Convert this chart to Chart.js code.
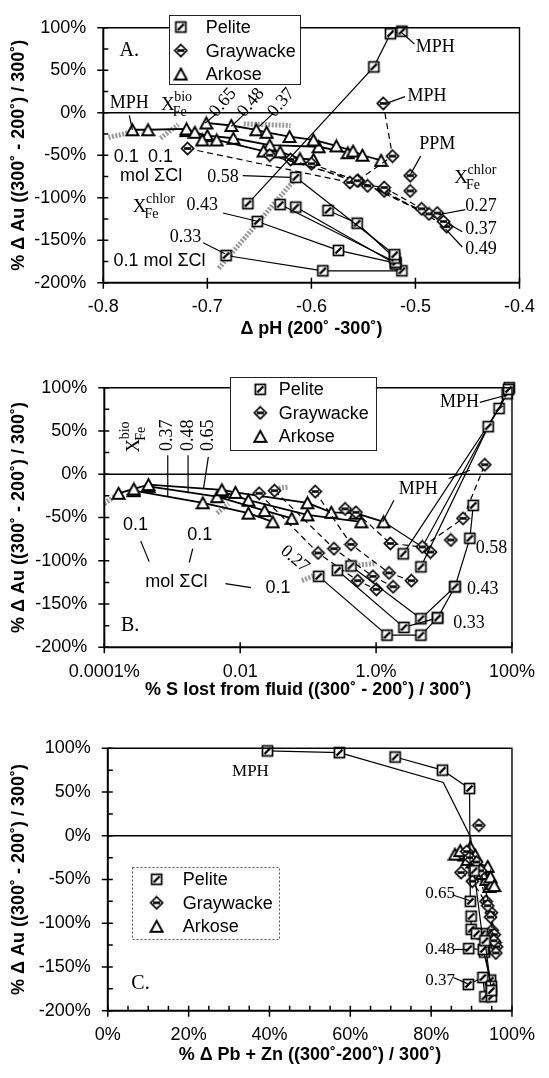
<!DOCTYPE html>
<html>
<head>
<meta charset="utf-8">
<script src="https://cdn.jsdelivr.net/npm/chart.js@4.4.1/dist/chart.umd.min.js"></script>
<style>
  html, body { margin: 0; padding: 0; background: #fff; }
  body { width: 549px; height: 1078px; position: relative; overflow: hidden; }
  canvas { position: absolute; left: 0; }
</style>
</head>
<body>
<canvas id="panelA" width="549" height="345" style="top:0"></canvas>
<canvas id="panelB" width="549" height="360" style="top:345px"></canvas>
<canvas id="panelC" width="549" height="373" style="top:705px"></canvas>
<script>
const SANS = '"Liberation Sans", Arial, sans-serif';
const SERIF = '"Liberation Serif", "Times New Roman", serif';

// rock types, in legend order
const rockNames = ['Pelite', 'Graywacke', 'Arkose'];
const rockKinds = ['pelite', 'graywacke', 'arkose'];

// shared y axis: % change of Au
const yTicks = [-200, -150, -100, -50, 0, 50, 100];
const yMinorTicks = [-175, -125, -75, -25, 25, 75];

// panel A: delta pH
const phTicks = [-0.8, -0.7, -0.6, -0.5, -0.4];
const pelitePH = [
  [[-0.661, -107], [-0.540, 54], [-0.524, 93], [-0.513, 96]],
  [[-0.615, -76], [-0.520, -167]],
  [[-0.584, -115], [-0.556, -130], [-0.520, -171]],
  [[-0.630, -108], [-0.519, -176]],
  [[-0.615, -111], [-0.519, -178]],
  [[-0.652, -128], [-0.574, -162], [-0.519, -177]],
  [[-0.682, -168], [-0.589, -186], [-0.513, -186]],
];
const graywackePH = [
  [[-0.531, 11], [-0.522, -51], [-0.556, -80]],
  [[-0.719, -42], [-0.563, -82], [-0.530, -88], [-0.494, -113]],
  [[-0.640, -50], [-0.555, -80], [-0.487, -119], [-0.479, -118]],
  [[-0.620, -55], [-0.546, -86], [-0.473, -128]],
  [[-0.600, -60], [-0.530, -92], [-0.470, -134]],
];
const graywackePPM = [[-0.505, -74], [-0.505, -92]];
const arkosePH = [
  [[-0.772, -20], [-0.757, -20], [-0.720, -19], [-0.712, -23], [-0.705, -32], [-0.691, -32], [-0.646, -45], [-0.630, -46], [-0.611, -54], [-0.598, -55]],
  [[-0.701, -12], [-0.677, -15], [-0.653, -20], [-0.643, -23], [-0.621, -28], [-0.598, -32], [-0.576, -39], [-0.560, -45], [-0.551, -50], [-0.533, -56]],
  [[-0.720, -21], [-0.700, -27], [-0.675, -30], [-0.640, -38], [-0.593, -40], [-0.565, -47]],
];
const clBandPH = [
  [[-0.795, -29], [-0.770, -22]],
  [[-0.745, -30], [-0.728, -14]],
  [[-0.665, -13], [-0.620, -15]],
  [[-0.689, -183], [-0.617, -80]],
];

// panel B: % S lost from fluid (log axis)
const sLostTicks = [1e-4, 1e-2, 1, 100];
const sLostTickLabels = ['0.0001%', '0.01', '1.0%', '100%'];
const pelitePS = [
  [[4.57, -107], [44.7, 55], [85.1, 93], [89.1, 98]],
  [[2.51, -92], [64.6, 76], [91.2, 100]],
  [[0.143, -118], [1.45, -186], [4.57, -186], [8.04, -166]],
  [[0.269, -111], [2.57, -177], [8.04, -166], [14.5, -130]],
  [[0.427, -106], [4.57, -167], [14.5, -130], [24.0, -74], [26.9, -36]],
];
const graywackePS = [
  [[0.35, -40], [0.506, -44], [1.62, -80], [4.79, -84], [19.05, -51], [39.8, 11]],
  [[0.019, -22], [0.14, -91], [0.537, -123], [1.01, -133]],
  [[0.032, -19], [0.24, -86], [0.90, -118], [1.78, -130]],
  [[0.127, -20], [0.427, -81], [1.55, -114], [3.31, -123]],
];
const graywackeLoneS = [[6.31, -90], [12.6, -76]];
const arkosePS = [
  [[1.62e-4, -22], [2.72e-4, -17], [4.47e-4, -12], [5.37e-3, -18], [8.51e-3, -21], [0.0977, -33], [0.219, -44], [0.501, -45], [1.29, -55]],
  [[2.72e-4, -19], [2.82e-3, -33], [0.0132, -45], [0.0302, -55]],
  [[4.47e-4, -14], [4.57e-3, -26], [0.0229, -42], [0.0575, -51]],
  [[5.37e-3, -20], [0.0132, -30], [0.0977, -47], [0.603, -55]],
];
const mphPathS = [[1.29, -55], [4.79, -84], [91.2, 100]];
const clBandPS = [
  [[1.0e-4, -34], [1.82e-4, -20]],
  [[4.57e-3, -45], [6.76e-3, -34]],
  [[0.029, -17], [0.05, -15]],
  [[0.081, -123], [0.143, -115]],
  [[0.55, -105], [1.0, -103]],
];

// panel C: % change of Pb + Zn
const pbznTicks = [0, 20, 40, 60, 80, 100];
const pelitePZ = [
  [[39.5, 97], [57.3, 95]],
  [[71.1, 90], [82.8, 75], [89.5, 54], [89.7, -75]],
  [[89.9, -92], [89.9, -107], [91.2, -112], [93.3, -120], [94.9, -177]],
  [[89.3, -129], [92.9, -130], [94.9, -172]],
  [[89.2, -170], [92.8, -162], [93.3, -184], [94.9, -184]],
  [[90.6, -40], [92.6, -112], [93.2, -133], [94.7, -165]],
];
const pelitePathPZ = [[57.3, 95], [83, 61], [89.8, -2], [90.2, -30]];
const graywackePZ = [
  [[91.8, 12]],
  [[87.4, -42], [90.2, -52], [94.0, -80], [94.7, -93], [95.5, -120], [96.0, -134]],
  [[89.5, -25], [92.2, -40], [94.9, -88], [95.6, -113], [96.2, -127]],
  [[88.8, -18], [91.2, -30], [93.6, -75], [95.1, -108], [95.8, -122]],
];
const arkosePZ = [
  [[85.9, -21], [87.2, -17], [89.7, -13], [90.9, -22], [92.6, -43], [94.7, -47], [95.6, -57]],
  [[87.2, -20], [89.0, -27], [91.5, -33], [93.6, -50], [95.0, -55]],
  [[88.2, -22], [90.2, -30], [94.0, -35], [94.4, -58]],
];

// labels and leader lines, placed in data units
const notesA = [
  { t: 'A.', x: -0.775, y: 73, serif: true, size: 20 },
  { t: 'MPH', x: -0.481, y: 77, serif: true },
  { t: 'MPH', x: -0.489, y: 20, serif: true },
  { t: 'PPM', x: -0.479, y: -37, serif: true },
  { xfe: 'chlor', x: -0.456, y: -77 },
  { t: '0.27', x: -0.437, y: -110, serif: true },
  { t: '0.37', x: -0.437, y: -137, serif: true },
  { t: '0.49', x: -0.437, y: -161, serif: true },
  { t: 'MPH', x: -0.775, y: 11, serif: true },
  { xfe: 'bio', x: -0.738, y: 9 },
  { t: '0.65', x: -0.685, y: 12, serif: true, rot: -50 },
  { t: '0.48', x: -0.658, y: 12, serif: true, rot: -50 },
  { t: '0.37', x: -0.629, y: 12, serif: true, rot: -50 },
  { t: '0.1', x: -0.778, y: -52 },
  { t: '0.1', x: -0.745, y: -52 },
  { t: 'mol ΣCl', x: -0.754, y: -75 },
  { t: '0.58', x: -0.685, y: -76, serif: true },
  { xfe: 'chlor', x: -0.765, y: -111 },
  { t: '0.43', x: -0.705, y: -109, serif: true },
  { t: '0.33', x: -0.721, y: -147, serif: true },
  { t: '0.1 mol ΣCl', x: -0.746, y: -175 },
];
const leadersA = [
  [[-0.513, 94], [-0.501, 81]],
  [[-0.528, 11], [-0.510, 19]],
  [[-0.495, -51], [-0.505, -73]],
  [[-0.452, -114], [-0.478, -120]],
  [[-0.455, -140], [-0.468, -131]],
  [[-0.455, -158], [-0.471, -137]],
  [[-0.775, -3], [-0.772, -20]],
  [[-0.691, -1], [-0.702, -12]],
  [[-0.664, -1], [-0.677, -16]],
  [[-0.637, -1], [-0.650, -16]],
  [[-0.666, -74], [-0.620, -76]],
  [[-0.685, -118], [-0.651, -128]],
  [[-0.704, -153], [-0.683, -166]],
];
const notesB = [
  { t: 'MPH', x: 16.9, y: 83, serif: true },
  { t: 'MPH', x: 4.16, y: -17, serif: true },
  { t: '0.58', x: 50.1, y: -86, serif: true },
  { t: '0.43', x: 37.2, y: -133, serif: true },
  { t: '0.33', x: 23.4, y: -172, serif: true },
  { t: 'B.', x: 2.4e-4, y: -175, serif: true, size: 20 },
  { t: '0.1', x: 2.88e-4, y: -59 },
  { t: '0.1', x: 2.55e-3, y: -70 },
  { t: 'mol ΣCl', x: 1.15e-3, y: -125 },
  { t: '0.1', x: 0.036, y: -132 },
  { t: '0.27', x: 0.0637, y: -98, serif: true, rot: 40 },
  { xfe: 'bio', x: 2.72e-4, y: 33, rot: -90 },
  { t: '0.37', x: 8.59e-4, y: 45, serif: true, rot: -90 },
  { t: '0.48', x: 1.71e-3, y: 45, serif: true, rot: -90 },
  { t: '0.65', x: 3.40e-3, y: 45, serif: true, rot: -90 },
];
const leadersB = [
  [[33.6, 83], [79.4, 91]],
  [[1.83, -30], [1.25, -55]],
  [[11.7, -5], [24, 4.6]],
  [[3.43e-4, -77], [4.57e-4, -101]],
  [[2.0e-3, -86], [1.78e-3, -102]],
  [[6.05e-3, -126.5], [0.01436, -131]],
  [[8.59e-4, 22], [8.59e-4, -26]],
  [[1.71e-3, 22], [1.71e-3, -22]],
  [[3.40e-3, 20], [2.88e-3, -17]],
];
const notesC = [
  { t: 'MPH', x: 35.3, y: 73, serif: true, size: 17 },
  { t: 'C.', x: 8.1, y: -169, serif: true, size: 20 },
  { t: '0.65', x: 82.2, y: -66, serif: true, size: 17 },
  { t: '0.48', x: 82.2, y: -130, serif: true, size: 17 },
  { t: '0.37', x: 82.2, y: -165, serif: true, size: 17 },
];
const leadersC = [
  [[85.5, -68], [89.5, -74]],
  [[85.5, -130], [89, -130]],
  [[85.5, -162], [89, -169]],
];

// ---- marker glyphs ----
function makeMarker(kind) {
  const c = document.createElement('canvas');
  c.width = 15; c.height = 15;
  const g = c.getContext('2d');
  g.strokeStyle = '#000';
  g.fillStyle = '#fff';
  g.lineWidth = 1.7;
  if (kind === 'pelite') {
    g.fillRect(2.5, 2.5, 10, 10);
    g.strokeRect(2.5, 2.5, 10, 10);
    g.lineWidth = 2.4;
    g.beginPath(); g.moveTo(4.5, 10.5); g.lineTo(10.5, 4.5); g.stroke();
  } else if (kind === 'graywacke') {
    g.beginPath();
    g.moveTo(7.5, 1.5); g.lineTo(13.5, 7.5); g.lineTo(7.5, 13.5); g.lineTo(1.5, 7.5);
    g.closePath(); g.fill(); g.stroke();
    g.lineWidth = 2.6;
    g.beginPath(); g.moveTo(4, 7.5); g.lineTo(11, 7.5); g.stroke();
  } else {
    g.beginPath();
    g.moveTo(7.5, 2); g.lineTo(13.5, 13); g.lineTo(1.5, 13);
    g.closePath(); g.fill(); g.lineWidth = 1.9; g.stroke();
  }
  return c;
}
const MARKERS = {};
rockKinds.forEach(k => { MARKERS[k] = makeMarker(k); });

// ---- dataset builders ----
function series(lines, kind, dashed, showLine = true) {
  return lines.map(pts => ({
    data: pts.map(([x, y]) => ({ x, y })),
    showLine,
    borderColor: '#000',
    borderWidth: kind === 'arkose' ? 1.8 : 1.2,
    borderDash: dashed ? [6, 4] : [],
    pointStyle: MARKERS[kind],
    pointRadius: 6,
    clip: false,
    order: 1,
  }));
}
function path(pts) {
  return {
    data: pts.map(([x, y]) => ({ x, y })),
    showLine: true,
    borderColor: '#000',
    borderWidth: 1.2,
    pointRadius: 0,
    clip: false,
    order: 2,
  };
}
function bands(lines) {
  return lines.map(pts => ({
    data: pts.map(([x, y]) => ({ x, y })),
    showLine: true,
    borderColor: 'rgba(135,135,135,0.85)',
    borderWidth: 5,
    borderDash: [2, 1.5],
    pointRadius: 0,
    clip: false,
    order: 3,
  }));
}

// ---- drawing helpers ----
function toPx(chart, x, y) {
  return [chart.scales.x.getPixelForValue(x), chart.scales.y.getPixelForValue(y)];
}

function drawXFe(ctx, sup) {
  ctx.textBaseline = 'middle';
  ctx.textAlign = 'center';
  ctx.font = `19px ${SERIF}`;
  const w = ctx.measureText('X').width;
  ctx.fillText('X', 0, 0);
  ctx.textAlign = 'left';
  ctx.font = `14px ${SERIF}`;
  ctx.fillText(sup, w / 2 - 0.5, -8);
  ctx.fillText('Fe', w / 2 - 2, 7.5);
}

function drawFrame(chart, spec) {
  const { ctx, chartArea: a, scales: { x, y } } = chart;
  ctx.save();
  ctx.strokeStyle = '#000';
  ctx.lineWidth = 1.4;
  ctx.beginPath();
  ctx.moveTo(a.left, a.top); ctx.lineTo(a.right, a.top); ctx.lineTo(a.right, a.bottom);
  ctx.stroke();
  ctx.lineWidth = 2;
  ctx.beginPath();
  ctx.moveTo(a.left, a.top); ctx.lineTo(a.left, a.bottom); ctx.lineTo(a.right, a.bottom);
  ctx.stroke();
  ctx.lineWidth = 1.5;
  ctx.beginPath();
  yTicks.forEach(v => { const p = y.getPixelForValue(v); ctx.moveTo(a.left - 6, p); ctx.lineTo(a.left + 5, p); });
  yMinorTicks.forEach(v => { const p = y.getPixelForValue(v); ctx.moveTo(a.left, p); ctx.lineTo(a.left + 5, p); });
  spec.xTicks.forEach(v => { const p = x.getPixelForValue(v); ctx.moveTo(p, a.bottom - 5); ctx.lineTo(p, a.bottom + 6); });
  spec.xMinor.forEach(v => { const p = x.getPixelForValue(v); ctx.moveTo(p, a.bottom - 5); ctx.lineTo(p, a.bottom); });
  ctx.stroke();
  ctx.restore();
}

function drawNotes(chart, spec) {
  const { ctx } = chart;
  ctx.save();
  ctx.fillStyle = '#000';
  ctx.strokeStyle = '#000';
  ctx.lineWidth = 1.2;
  spec.leaders.forEach(([p, q]) => {
    const a = toPx(chart, p[0], p[1]), b = toPx(chart, q[0], q[1]);
    ctx.beginPath(); ctx.moveTo(a[0], a[1]); ctx.lineTo(b[0], b[1]); ctx.stroke();
  });
  spec.notes.forEach(n => {
    const [px, py] = toPx(chart, n.x, n.y);
    ctx.save();
    ctx.translate(px, py);
    if (n.rot) ctx.rotate(n.rot * Math.PI / 180);
    if (n.xfe) {
      drawXFe(ctx, n.xfe);
    } else {
      ctx.textAlign = 'center';
      ctx.textBaseline = 'middle';
      ctx.font = `${n.size || 18}px ${n.serif ? SERIF : SANS}`;
      ctx.fillText(n.t, 0, 0);
    }
    ctx.restore();
  });
  ctx.restore();
}

function drawKey(chart, L) {
  const { ctx } = chart;
  const [left, top] = toPx(chart, L.x, L.y);
  ctx.save();
  ctx.fillStyle = '#fff';
  ctx.fillRect(left, top, L.w, L.h);
  ctx.strokeStyle = L.dash ? '#555' : '#222';
  ctx.lineWidth = 1;
  if (L.dash) ctx.setLineDash([2, 2]);
  ctx.strokeRect(Math.round(left) + 0.5, Math.round(top) + 0.5, L.w, L.h);
  ctx.setLineDash([]);
  ctx.font = `18px ${SANS}`;
  ctx.fillStyle = '#000';
  ctx.textAlign = 'left';
  ctx.textBaseline = 'middle';
  rockNames.forEach((name, i) => {
    const cy = top + 12 + i * 23.5;
    const m = MARKERS[rockKinds[i]];
    ctx.drawImage(m, left + L.markerDx - m.width / 2, cy - m.height / 2);
    ctx.fillText(name, left + L.textDx, cy + 1);
  });
  ctx.restore();
}

function decor(spec) {
  return {
    id: 'decor' + spec.id,
    beforeDatasetsDraw(chart) {
      const { ctx, chartArea: a, scales: { y } } = chart;
      const y0 = y.getPixelForValue(0);
      ctx.save();
      ctx.strokeStyle = '#000';
      ctx.lineWidth = 1.3;
      ctx.beginPath(); ctx.moveTo(a.left, y0); ctx.lineTo(a.right, y0); ctx.stroke();
      ctx.restore();
    },
    afterDraw(chart) {
      drawFrame(chart, spec);
      drawNotes(chart, spec);
      drawKey(chart, spec.key);
    },
  };
}

function makePanel(canvasId, spec) {
  const tickFont = { family: SANS, size: 18 };
  const titleFont = { family: SANS, size: 18, weight: 'bold' };
  return new Chart(document.getElementById(canvasId), {
    type: 'scatter',
    data: { datasets: spec.datasets },
    options: {
      responsive: false,
      animation: false,
      devicePixelRatio: 1,
      layout: { padding: { top: spec.padTop, right: spec.padRight, left: 0, bottom: 0 } },
      plugins: { legend: { display: false }, tooltip: { enabled: false } },
      elements: { line: { tension: 0 } },
      scales: {
        x: {
          type: spec.xType,
          min: spec.xMin,
          max: spec.xMax,
          grid: { display: false, drawTicks: false },
          border: { display: false },
          afterBuildTicks: s => { s.ticks = spec.xTicks.map(v => ({ value: v })); },
          afterFit: s => { s.height = spec.xBoxH; },
          ticks: {
            autoSkip: false, maxRotation: 0, minRotation: 0, padding: 14,
            color: '#000', font: tickFont, callback: spec.xLabel,
          },
          title: {
            display: true, text: spec.xTitle, color: '#000', font: titleFont,
            padding: { top: 0, bottom: spec.xTitlePad },
          },
        },
        y: {
          min: -200,
          max: 100,
          grid: { display: false, drawTicks: false },
          border: { display: false },
          afterBuildTicks: s => { s.ticks = yTicks.map(v => ({ value: v })); },
          afterFit: s => { s.width = spec.yBoxW; },
          ticks: { padding: 17, color: '#000', font: tickFont, callback: v => v + '%' },
          title: {
            display: true, text: '% Δ Au ((300˚ - 200˚) / 300˚)', color: '#000', font: titleFont,
            padding: { top: 8, bottom: 0 },
          },
        },
      },
    },
    plugins: [decor(spec)],
  });
}

const minorEvery = (lo, hi, step, skip) => {
  const out = [];
  for (let v = lo + step; v < hi; v += step) if (Math.round(v) % skip !== 0) out.push(v);
  return out;
};

makePanel('panelA', {
  id: 'A',
  xType: 'linear', xMin: -0.8, xMax: -0.4,
  xTicks: phTicks, xMinor: [], xLabel: v => v.toFixed(1),
  xTitle: 'Δ pH (200˚ -300˚)',
  padTop: 18.5, padRight: 24, yBoxW: 103.3, xBoxH: 62.3, xTitlePad: 5,
  datasets: [
    ...series(pelitePH, 'pelite', false),
    ...series(graywackePH, 'graywacke', true),
    ...series([graywackePPM], 'graywacke', false, false),
    ...series(arkosePH, 'arkose', false),
    ...bands(clBandPH),
  ],
  notes: notesA, leaders: leadersA,
  key: { x: -0.737, y: 115, w: 131, h: 69, markerDx: 12, textDx: 37, dash: false },
});

makePanel('panelB', {
  id: 'B',
  xType: 'logarithmic', xMin: 1e-4, xMax: 100,
  xTicks: sLostTicks, xMinor: [], xLabel: (v, i) => sLostTickLabels[i],
  xTitle: '% S lost from fluid ((300˚ - 200˚) / 300˚)',
  padTop: 42.7, padRight: 23.8, yBoxW: 104.3, xBoxH: 57.7, xTitlePad: 4,
  datasets: [
    ...series(pelitePS, 'pelite', false),
    ...series(graywackePS, 'graywacke', true),
    ...series([graywackeLoneS], 'graywacke', false, false),
    ...series(arkosePS, 'arkose', false),
    path(mphPathS),
    ...bands(clBandPS),
  ],
  notes: notesB, leaders: leadersB,
  key: { x: 7.03e-3, y: 112, w: 146, h: 73, markerDx: 30.5, textDx: 49, dash: false },
});

makePanel('panelC', {
  id: 'C',
  xType: 'linear', xMin: 0, xMax: 100,
  xTicks: pbznTicks, xMinor: minorEvery(0, 100, 5, 20), xLabel: v => v + '%',
  xTitle: '% Δ Pb + Zn ((300˚-200˚) / 300˚)',
  padTop: 43.3, padRight: 22.7, yBoxW: 107.8, xBoxH: 67.3, xTitlePad: 12,
  datasets: [
    ...series(pelitePZ, 'pelite', false),
    ...series(graywackePZ, 'graywacke', true),
    ...series(arkosePZ, 'arkose', false),
    path(pelitePathPZ),
  ],
  notes: notesC, leaders: leadersC,
  key: { x: 6.0, y: -36, w: 147, h: 72, markerDx: 24.6, textDx: 50.8, dash: true },
});
</script>
</body>
</html>
